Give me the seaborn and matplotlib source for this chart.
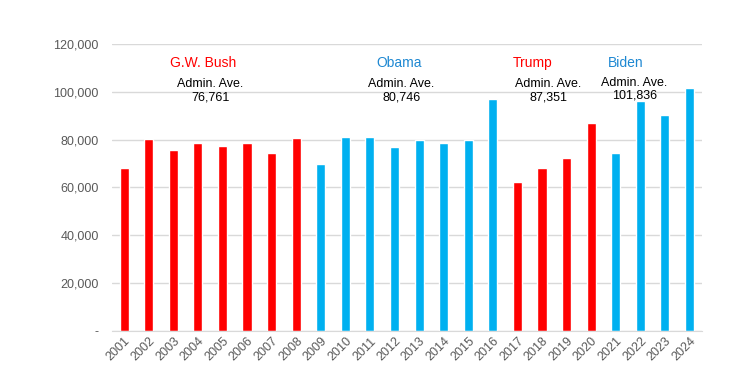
import matplotlib
matplotlib.use("Agg")
import matplotlib.pyplot as plt
import seaborn as sns
import pandas as pd
from matplotlib.ticker import FuncFormatter

# dati
anni = [str(a) for a in range(2001, 2025)]
valori = [68000, 80400, 75800, 78700, 77500, 78700, 74600, 80800,
          69600, 81200, 81200, 77100, 80000, 78700, 80000, 97100,
          62100, 68300, 72500, 87100, 74600, 96000, 90400, 101700]
partito = ["R"] * 8 + ["D"] * 8 + ["R"] * 4 + ["D"] * 4
presidenti = ["G.W. Bush", "Obama", "Trump", "Biden"]
medie = ["76,761", "80,746", "87,351", "101,836"]

rosso = "#FF0000"
blu = "#00B0F0"
colori_nomi = [rosso, "#1E88D2", rosso, "#1E88D2"]

sns.set_style("white")
plt.rcParams['font.family'] = ['Liberation Sans', 'DejaVu Sans']

df = pd.DataFrame({"anno": anni, "valore": valori, "partito": partito})

fig = plt.figure(figsize=(7.31, 3.79), dpi=100)
ax = fig.add_axes([0.153, 0.127, 0.807, 0.757])
sns.barplot(data=df, x="anno", y="valore", hue="partito",
            palette={"R": rosso, "D": blu}, dodge=False, width=0.37,
            legend=False, ax=ax, saturation=1)

ax.set_ylim(0, 120000)
ax.set_yticks(range(0, 120001, 20000))
ax.yaxis.set_major_formatter(FuncFormatter(lambda v, p: "-" if v == 0 else f"{int(v):,}"))
ax.grid(axis="y", color="#D9D9D9", linewidth=1)
ax.set_axisbelow(True)
for s in ["top", "right", "left"]:
    ax.spines[s].set_visible(False)
ax.spines["bottom"].set_color("#D9D9D9")
ax.tick_params(axis="y", length=0, pad=9.5, labelsize=9, labelcolor="#595959")
ax.tick_params(axis="x", length=0, pad=3, labelsize=9, labelcolor="#595959")
plt.setp(ax.get_xticklabels(), rotation=45, ha="right", rotation_mode="anchor")
ax.set_xlabel("")
ax.set_ylabel("")

# etichette delle amministrazioni
pos_nomi = [3.2, 11.2, 16.6, 20.4]
pos_medie = [3.5, 11.27, 17.26, 20.76]
y_medie = [100500, 100500, 100500, 101000]
for nome, col, xn, xm, ym, m in zip(presidenti, colori_nomi, pos_nomi, pos_medie, y_medie, medie):
    ax.text(xn, 112000, nome, color=col, fontsize=10, ha="center", va="center")
    ax.text(xm, ym, "Admin. Ave.\n" + m, color="black", fontsize=9,
            ha="center", va="center", linespacing=1.1)

plt.savefig("out.png", dpi=100)
